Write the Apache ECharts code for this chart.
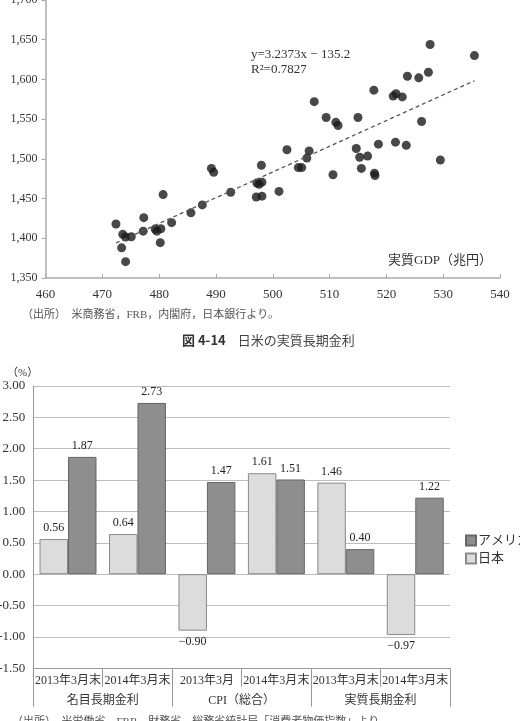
<!DOCTYPE html>
<html><head><meta charset="utf-8">
<script src="https://cdn.jsdelivr.net/npm/echarts@6/dist/echarts.min.js"></script>
<style>html,body{margin:0;padding:0;background:#fff}#c{width:520px;height:721px}</style>
</head><body><div id="c"></div>
<script>
// Scatter: real GDP (trillion yen) vs. value
const gdp = [472.4,473.6,474.1,475.1,473.4,474.1,477.3,477.2,479.3,479.6,480.3,480.2,480.7,482.2,485.6,487.6,489.2,489.6,492.6,498.0,497.2,497.6,498.1,497.1,498.1,501.1,502.5,504.5,505.1,506.0,506.4,507.3,509.4,511.1,511.5,510.6,514.7,515.0,515.3,516.7,515.6,517.8,517.9,518.0,518.6,527.7,535.5,523.7,525.7,527.4,521.2,521.7,522.8,526.2,521.6,523.5,529.5];
const yVals = [1418,1405,1401.6,1402,1388,1370.6,1426,1409,1411.6,1409,1412,1394.5,1455,1419.7,1432,1442,1488,1483,1458,1492,1469.5,1468,1470.7,1452,1453,1459,1511.5,1489,1489,1501,1510,1572,1552,1546,1542,1480,1513,1552,1502,1503.5,1488,1586.5,1482,1479,1518.5,1644,1630,1604,1602,1609,1579,1582,1578,1547,1521,1517,1498.5];
const trendSlope = 3.2373, trendIntercept = -135.2;
const trendX = [472.4, 535.5];

// Bar chart
const barCats = ['2013年3月末','2014年3月末','2013年3月','2014年3月末','2013年3月末','2014年3月末'];
const barGroups = ['名目長期金利','CPI（総合）','実質長期金利'];
const japan = [0.56, 0.64, -0.90, 1.61, 1.46, -0.97];
const america = [1.87, 2.73, 1.47, 1.51, 0.40, 1.22];

const SERIF = "'Liberation Serif','Noto Sans CJK JP',serif";
const CJK = "'Liberation Serif','Noto Sans CJK JP',sans-serif";

const scatterData = gdp.map((x,i)=>[x, yVals[i]]);
const trendData = trendX.map(x=>[x, trendSlope*x + trendIntercept]);
const fmt = v => v<0 ? '−'+Math.abs(v).toFixed(2) : v.toFixed(2);
const barItems = arr => arr.map(v=>({value:v, label:{position: v<0?'bottom':'top'}}));

const chart = echarts.init(document.getElementById('c'), null, {renderer:'canvas'});
chart.setOption({
  animation:false,
  textStyle:{fontFamily:SERIF, color:'#333'},
  grid:[
    {left:45.5, top:0, width:454.5, height:278, containLabel:false, outerBoundsMode:'none'},
    {left:33.3, top:386, width:416.7, height:282.3, containLabel:false, outerBoundsMode:'none'}
  ],
  xAxis:[
    {gridIndex:0, type:'value', min:460, max:540, interval:10,
     axisLine:{show:true, lineStyle:{color:'#aaa', width:1.5}},
     axisTick:{show:true, inside:true, length:4, lineStyle:{color:'#aaa'}},
     axisLabel:{fontSize:13, margin:10, color:'#333', fontFamily:SERIF},
     splitLine:{show:false}},
    {gridIndex:1, type:'category', data:barCats, position:'bottom',
     axisLine:{show:true, onZero:false, lineStyle:{color:'#999'}},
     axisTick:{show:true, interval:0, length:18.4, lineStyle:{color:'#999'}},
     axisLabel:{interval:0, fontSize:12, margin:7, color:'#333', fontFamily:CJK}},
    {gridIndex:1, type:'category', data:barGroups, position:'bottom',
     axisLine:{show:false, onZero:false},
     axisTick:{show:true, interval:0, length:38.4, lineStyle:{color:'#999'}},
     axisLabel:{interval:0, fontSize:12, margin:27, color:'#333', fontFamily:CJK}}
  ],
  yAxis:[
    {gridIndex:0, type:'value', min:1350, max:1700, interval:50,
     axisLine:{show:true, lineStyle:{color:'#aaa', width:1.5}},
     axisTick:{show:true, length:4, lineStyle:{color:'#aaa'}},
     axisLabel:{fontSize:12, margin:8, color:'#333', fontFamily:SERIF,
       formatter:v=>{const s=String(v);return s.length>3? s.slice(0,s.length-3)+','+s.slice(-3):s;}},
     splitLine:{show:false}},
    {gridIndex:1, type:'value', min:-1.5, max:3, interval:0.5,
     axisLine:{show:true, onZero:false, lineStyle:{color:'#999'}},
     axisTick:{show:false},
     axisLabel:{fontSize:13, margin:8, color:'#333', fontFamily:SERIF, formatter:v=>v.toFixed(2)},
     splitLine:{show:true, lineStyle:{color:'#bdbdbd', width:1}}}
  ],
  legend:{
    data:[{name:'アメリカ', icon:'rect'},{name:'日本', icon:'rect'}], orient:'vertical', left:460, top:529,
    itemWidth:10, itemHeight:10, itemGap:5,
    textStyle:{fontSize:13, color:'#333', fontFamily:CJK, padding:[0,0,0,-3]}
  },
  series:[
    {type:'scatter', xAxisIndex:0, yAxisIndex:0, data:scatterData, symbolSize:9,
     itemStyle:{color:'#1a1a1a'}},
    {type:'line', xAxisIndex:0, yAxisIndex:0, data:trendData, symbol:'none',
     lineStyle:{color:'#555', width:1.3, type:[4,3]}},
    {name:'日本', type:'bar', xAxisIndex:1, yAxisIndex:1, data:barItems(japan),
     barGap:'0%', barCategoryGap:'18%',
     itemStyle:{color:'#dcdcdc', borderColor:'#8a8a8a', borderWidth:1},
     label:{show:true, distance:5, fontSize:12, color:'#222', fontFamily:SERIF,
       formatter:p=>fmt(p.value)}},
    {name:'アメリカ', type:'bar', xAxisIndex:1, yAxisIndex:1, data:barItems(america),
     barGap:'0%', barCategoryGap:'18%',
     itemStyle:{color:'#8e8e8e', borderColor:'#666', borderWidth:1},
     label:{show:true, distance:5, fontSize:12, color:'#222', fontFamily:SERIF,
       formatter:p=>fmt(p.value)}}
  ],
  graphic:[
    {type:'text', left:251, top:48, style:{text:'y=3.2373x − 135.2', font:"13px 'Liberation Serif'", fill:'#333'}},
    {type:'text', left:251, top:63, style:{text:'R²=0.7827', font:"13px 'Liberation Serif'", fill:'#333'}},
    {type:'text', left:388, top:254, style:{text:'実質GDP（兆円）', font:"13px 'Liberation Serif','Noto Sans CJK JP'", fill:'#333'}},
    {type:'text', left:22, top:310, style:{text:'（出所）　米商務省，FRB，内閣府，日本銀行より。', font:"11px 'Liberation Serif','Noto Sans CJK JP'", fill:'#555'}},
    {type:'text', left:182, top:334, style:{
      text:'{a|図 4-14}　{b|日米の実質長期金利}',
      rich:{a:{font:"bold 13px 'Noto Sans CJK JP'", fill:'#333'}, b:{font:"13px 'Noto Sans CJK JP'", fill:'#444'}}}},
    {type:'text', left:7, top:368, style:{text:'（%）', font:"11px 'Liberation Serif','Noto Sans CJK JP'", fill:'#333'}},
    {type:'text', left:12, top:717, style:{text:'（出所）　米労働省，FRB，財務省，総務省統計局「消費者物価指数」より。', font:"11px 'Liberation Serif','Noto Sans CJK JP'", fill:'#555'}}
  ]
});
</script></body></html>
